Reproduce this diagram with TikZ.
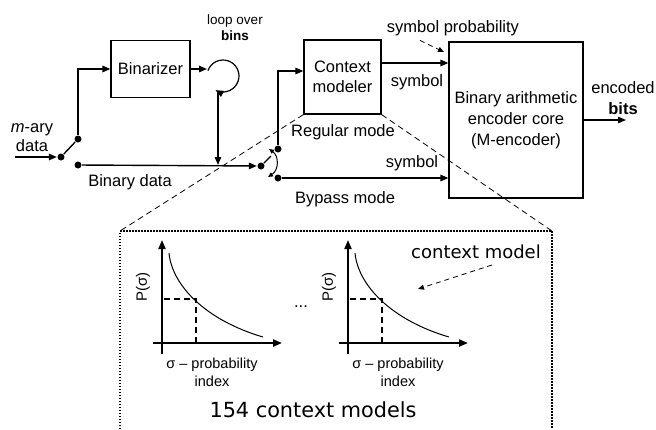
\documentclass[tikz,border=0pt]{standalone}
\usepackage{fontspec}
\setmainfont{Liberation Sans}
\newfontfamily\verd{DejaVu Sans}
\usetikzlibrary{arrows.meta}

\begin{document}
\begin{tikzpicture}[x=1pt, y=-1pt, line width=1.4pt,
      >={Triangle[length=8pt,width=6.5pt]},
      every node/.append style={inner sep=0pt, font=\fontsize{16.5}{20}\selectfont}]
    \tikzstyle{block} = [draw, align=center, line width=1.2pt]
    \tikzstyle{dot} = [circle, fill, minimum size=7pt]
    \tikzstyle{small} = [align=center, font=\fontsize{13.5}{16}\selectfont]
    \tikzstyle{hint} = [dashed, line width=0.8pt, dash pattern=on 5pt off 4pt, -{Triangle[length=6pt,width=5pt]}]
    \tikzstyle{axis} = [line width=2pt, -{Triangle[length=9pt,width=7pt]}]
    \useasboundingbox (0,0) rectangle (656,429);

    \node [block, minimum width=79pt, minimum height=57pt] (bin) at (150.5,69) {Binarizer};
    \node [block, minimum width=77pt, minimum height=74pt] (cm) at (342.5,77) {Context\\modeler};
    \node [block, minimum width=134pt, minimum height=156pt, font=\fontsize{16.5}{21}\selectfont] (bac) at (516,120)
      {Binary arithmetic\\encoder core\\(M-encoder)};

    \node [dot] (sw1) at (61,157) {};
    \node [dot] (up1) at (78,139) {};
    \node [dot] (bd) at (78,165) {};
    \node [dot] (sw2) at (261,166) {};
    \node [dot] (reg) at (278,149) {};
    \node [dot] (byp) at (278,178) {};
    \coordinate (in) at (15,157);
    \coordinate (lp) at (207,69);
    \coordinate (loop) at (223,76);
    \coordinate (drop) at (218,91);
    \coordinate (join) at (218,165);
    \coordinate (lever) at (271,156);
    \coordinate (sa) at (269,149);
    \coordinate (sb) at (268,177);
    \coordinate (out) at (626,120);
    \coordinate (spt) at (444,52);
    \coordinate (zl) at (120,231);
    \coordinate (zr) at (552,231);
    \coordinate (zlb) at (120,429);
    \coordinate (zrb) at (552,429);

    \node [small] (loopt) at (235,28) {loop over\\\textbf{bins}};
    \node [align=center, font=\fontsize{16.5}{19}\selectfont] (mary) at (32,137.5) {\textit{m}-ary\\data};
    \node (bdt) at (130,182) {Binary data};
    \node (regt) at (343,132) {Regular mode};
    \node (bypt) at (345,199) {Bypass mode};
    \node (sym1) at (417,82) {symbol};
    \node (sym2) at (412,163) {symbol};
    \node (sprob) at (453,28) {symbol probability};
    \node [align=center, font=\fontsize{16.5}{21}\selectfont] (enc) at (623,98.5) {encoded\\\textbf{bits}};

    \draw [->] (in) -- (sw1);
    \draw (sw1) -- (up1);
    \draw [->] (up1) |- (bin);
    \draw [->] (bin) -- (lp);
    \draw [->, line width=1.2pt] ([shift={(200:16)}]loop) arc[start angle=200, end angle=478, radius=16];
    \draw [->] (drop) -- (join);
    \draw [->] (bd) -- (sw2);
    \draw (sw2) -- (lever);
    \draw [line width=1pt, {Triangle[length=5pt,width=4.5pt]}-{Triangle[length=5pt,width=4.5pt]}]
      (sa) .. controls (279,156) and (279,170) .. (sb);
    \draw [->] (reg) |- ([yshift=6pt]cm.west);
    \draw [->] ([yshift=14pt]cm.east) -- ([yshift=14pt]cm.east -| bac.west);
    \draw [->] (byp) -- (byp -| bac.west);
    \draw [->] (bac.east) -- (out);
    \draw [hint] ([xshift=-33pt,yshift=-4pt]sprob.south) -- (spt);

    \draw [line width=0.8pt, dash pattern=on 6pt off 4pt] (cm.south west) -- (zl);
    \draw [line width=0.8pt, dash pattern=on 6pt off 4pt] (cm.south east) -- (zr);
    \draw [line width=1.8pt, dash pattern=on 1.5pt off 1.5pt] (zlb) -- (zl) -- (zr) -- (zrb);

    \foreach \dx/\g in {0/a,186/b} {
      \begin{scope}[xshift=\dx pt]
        \draw [axis] (162,354) -- (162,240);
        \draw [axis] (153,343) -- (282,343);
        \draw [line width=1pt] (169,253) .. controls (172,285) and (205,320) .. (263,337);
        \draw [line width=2pt, dash pattern=on 6pt off 4pt] (164,299) -- (196,299) -- (196,343);
        \node [rotate=90, font=\fontsize{15}{18}\selectfont] (p\g) at (143,287) {P(σ)};
        \node [align=center, font=\fontsize{14.5}{18}\selectfont] (x\g) at (212,372) {σ – probability\\index};
      \end{scope}
    }
    \node (gap) at (301,307) {...};
    \node [font=\verd\fontsize{18}{22}\selectfont] (cmt) at (476,252) {context model};
    \coordinate (cma) at (492,265);
    \coordinate (cmb) at (418,289);
    \draw [hint] (cma) -- (cmb);
    \node [font=\verd\fontsize{20.8}{24}\selectfont] (total) at (313,410) {154 context models};
\end{tikzpicture}
\end{document}
